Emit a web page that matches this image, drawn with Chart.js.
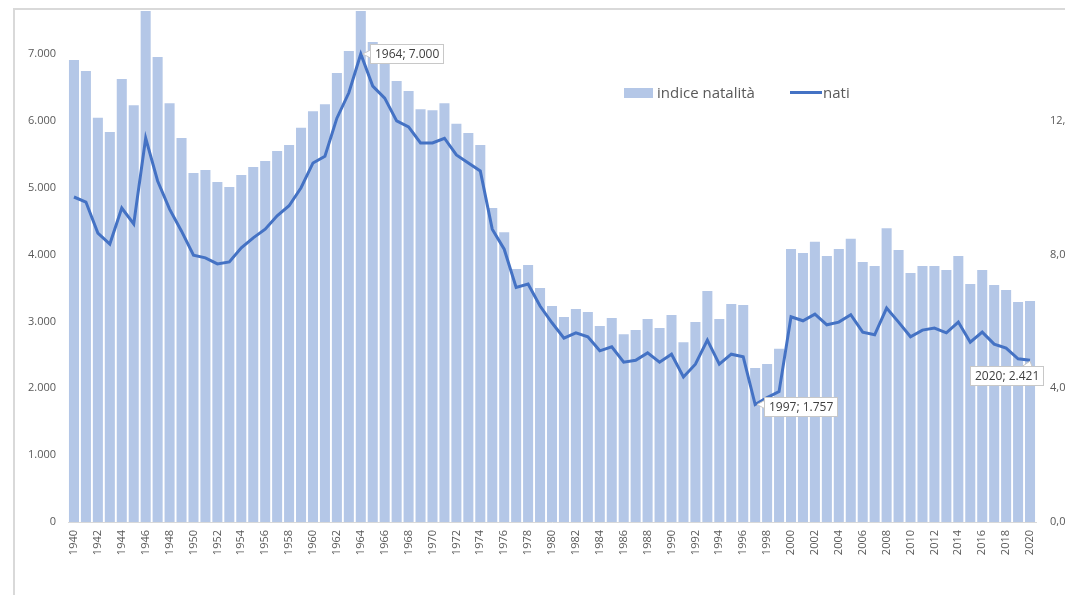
<!DOCTYPE html>
<html>
<head>
<meta charset="utf-8">
<script src="https://cdn.jsdelivr.net/npm/chart.js@4/dist/chart.umd.min.js"></script>
<style>
  html,body{margin:0;padding:0;background:#fff;overflow:hidden;width:1065px;height:595px;}
  #frame{position:absolute;left:13px;top:8px;width:1100px;height:600px;border-top:2px solid #d9d9d9;border-left:2px solid #d9d9d9;}
  #wrap{position:absolute;left:0;top:0;width:1100px;height:595px;}
  .leg{position:absolute;font:15px "Open Sans",sans-serif;color:#595959;line-height:18px;}
</style>
</head>
<body>
<div id="frame"></div>
<div id="wrap"><canvas id="c" width="1100" height="595"></canvas></div>
<div class="leg" style="left:624px;top:88px;width:29px;height:10px;background:#B4C7E7;"></div>
<div class="leg" style="left:657px;top:83px;">indice natalità</div>
<div class="leg" style="left:790px;top:91px;width:32px;height:3px;background:#4472C4;"></div>
<div class="leg" style="left:823px;top:83px;">nati</div>
<script>
// years 1940..2020
const years = [];
for (let y = 1940; y <= 2020; y++) years.push(String(y));

// indice natalità (right axis)
const indice = [
  13.82,13.49,12.09,11.67,13.25,12.47,15.9,13.91,12.53,11.49,
  10.44,10.53,10.17,10.02,10.38,10.62,10.80,11.10,11.28,11.79,
  12.29,12.50,13.43,14.09,15.9,14.36,13.73,13.19,12.89,12.35,
  12.32,12.53,11.91,11.64,11.28,9.39,8.67,7.57,7.69,7.00,
  6.46,6.13,6.37,6.28,5.86,6.10,5.62,5.74,6.07,5.80,
  6.19,5.38,5.98,6.91,6.07,6.52,6.49,4.61,4.73,5.18,
  8.17,8.05,8.38,7.96,8.17,8.47,7.78,7.66,8.79,8.14,
  7.45,7.66,7.66,7.54,7.96,7.12,7.54,7.09,6.94,6.58,
  6.61
];

// nati (left axis)
const nati = [
  4861,4786,4322,4158,4696,4457,5743,5100,4680,4350,
  3990,3950,3860,3890,4100,4250,4380,4580,4730,5000,
  5370,5470,6040,6420,7000,6520,6340,6000,5910,5670,
  5670,5740,5490,5370,5250,4380,4080,3510,3560,3230,
  2980,2750,2830,2770,2560,2620,2390,2420,2530,2390,
  2510,2170,2360,2720,2360,2510,2470,1757,1860,1950,
  3070,3010,3110,2950,2990,3100,2840,2800,3200,2990,
  2770,2870,2900,2830,2990,2690,2840,2660,2600,2440,
  2421
];

const labelYears = ["1964", "1997", "2020"];

const fmtThousands = v => String(v).replace(/\B(?=(\d{3})+(?!\d))/g, ".");
const FONT = '"Open Sans", sans-serif';

// callout boxes on the nati line
const calloutPlugin = {
  id: "callouts",
  afterDatasetsDraw(chart) {
    const ctx = chart.ctx;
    const meta = chart.getDatasetMeta(0);
    ctx.save();
    ctx.font = "12px " + FONT;
    labelYears.forEach((yr, k) => {
      const i = years.indexOf(yr);
      const pt = meta.data[i];
      const txt = yr + "; " + fmtThousands(nati[i]);
      const w = Math.round(ctx.measureText(txt).width + 9), h = 19;
      let bx, by;
      if (k === 0) { bx = pt.x + 9; by = pt.y - 10; }
      else if (k === 1) { bx = pt.x + 9; by = pt.y - 8; }
      else { bx = pt.x + 13 - w; by = pt.y + 6; }
      bx = Math.round(bx); by = Math.round(by);
      // pointer
      ctx.fillStyle = "#fff"; ctx.strokeStyle = "#c8c8c8"; ctx.lineWidth = 1;
      ctx.beginPath();
      if (k === 2) { ctx.moveTo(pt.x - 8, by + 0.5); ctx.lineTo(pt.x, pt.y + 1); ctx.lineTo(pt.x + 2, by + 0.5); }
      else { ctx.moveTo(bx + 0.5, pt.y - 4); ctx.lineTo(pt.x + 2, pt.y); ctx.lineTo(bx + 0.5, pt.y + 4); }
      ctx.closePath(); ctx.fill(); ctx.stroke();
      ctx.fillRect(bx, by, w, h);
      ctx.strokeRect(bx + 0.5, by + 0.5, w, h);
      ctx.fillStyle = "#404040";
      ctx.textBaseline = "middle"; ctx.textAlign = "left";
      ctx.fillText(txt, bx + 5, by + h / 2 + 1);
    });
    ctx.restore();
  }
};

const noPad = s => { s.paddingTop = 0; s.paddingBottom = 0; };

new Chart(document.getElementById("c"), {
  data: {
    labels: years,
    datasets: [
      { type: "line", label: "nati", data: nati, yAxisID: "y", order: 0,
        borderColor: "#4472C4", borderWidth: 3, pointRadius: 0, tension: 0, fill: false },
      { type: "bar", label: "indice natalità", data: indice, yAxisID: "y1", order: 1,
        backgroundColor: "#B4C7E7", barPercentage: 0.84, categoryPercentage: 1.0 }
    ]
  },
  options: {
    responsive: false,
    animation: false,
    layout: { padding: { top: 11, left: 0, right: 0, bottom: 0 } },
    plugins: { legend: { display: false }, tooltip: { enabled: false } },
    scales: {
      x: {
        grid: { display: false, drawTicks: false },
        border: { display: true, color: "#d9d9d9", width: 1 },
        ticks: {
          autoSkip: false, maxRotation: 90, minRotation: 90, padding: 8,
          color: "#595959", font: { family: FONT, size: 11 },
          callback: function (v, i) { return i % 2 === 0 ? this.getLabelForValue(v) : ""; }
        },
        afterFit: s => { s.height = 73; s.paddingLeft = 0; s.paddingRight = 0; }
      },
      y: {
        position: "left", beginAtZero: true, max: 7643,
        grid: { display: false, drawTicks: false }, border: { display: false },
        ticks: { stepSize: 1000, includeBounds: false, padding: 12,
          color: "#595959", font: { family: FONT, size: 11 },
          callback: v => fmtThousands(v) },
        afterFit: s => { s.width = 68; noPad(s); }
      },
      y1: {
        position: "right", beginAtZero: true, max: 15.286,
        grid: { display: false, drawTicks: false }, border: { display: false },
        ticks: { stepSize: 4, includeBounds: false, padding: 14,
          color: "#595959", font: { family: FONT, size: 11 },
          callback: v => v.toFixed(1).replace(".", ",") },
        afterFit: s => { s.width = 64; noPad(s); }
      }
    }
  },
  plugins: [calloutPlugin]
});
</script>
</body>
</html>
